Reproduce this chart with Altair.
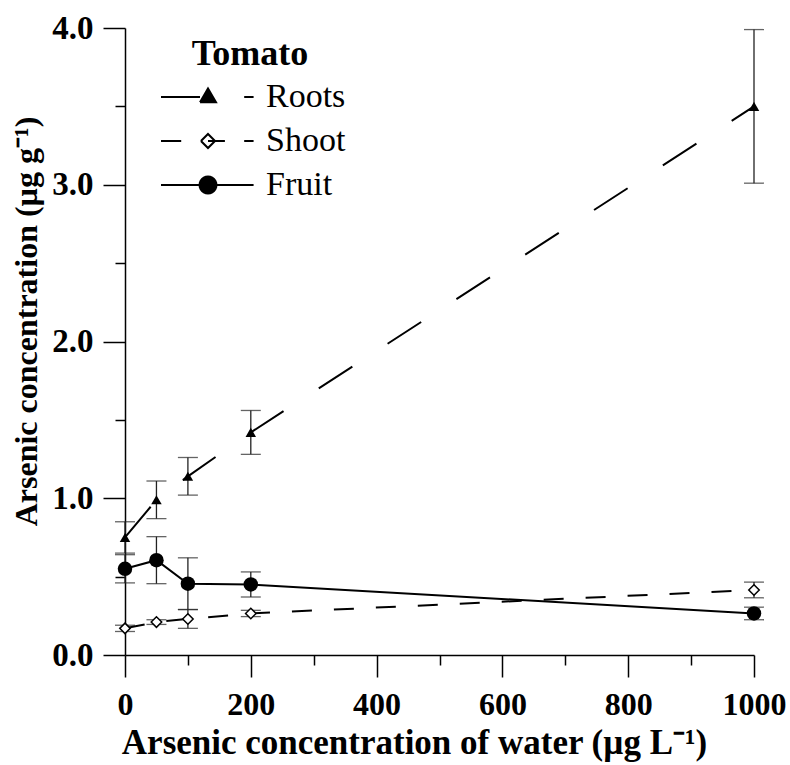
import altair as alt
import pandas as pd
import math

# ---- data ----
conc = [0, 50, 100, 200, 1000]
parts = ["Roots", "Shoot", "Fruit"]
roots_mean = [0.75, 0.99, 1.14, 1.42, 3.50]
roots_err = [0.10, 0.12, 0.12, 0.14, 0.49]
shoot_mean = [0.17, 0.21, 0.23, 0.265, 0.415]
shoot_err = [0.02, 0.015, 0.06, 0.02, 0.05]
fruit_mean = [0.55, 0.605, 0.455, 0.45, 0.265]
fruit_err = [0.09, 0.15, 0.165, 0.08, 0.04]
x_ticks = [0, 100, 200, 300, 400, 500, 600, 700, 800, 900, 1000]
y_ticks = [0.0, 0.5, 1.0, 1.5, 2.0, 2.5, 3.0, 3.5, 4.0]

rows = []
for part, means, errs in zip(parts, [roots_mean, shoot_mean, fruit_mean],
                             [roots_err, shoot_err, fruit_err]):
    for c, m, e in zip(conc, means, errs):
        rows.append({"part": part, "conc": c, "mean": m, "lo": m - e, "hi": m + e})
df = pd.DataFrame(rows)

FONT = "Liberation Serif"

x_axis = alt.Axis(
    values=x_ticks,
    labelExpr="datum.value % 200 === 0 ? '' + datum.value : ''",
    tickSize={"condition": {"test": "datum.value % 200 === 0", "value": 22}, "value": 10},
    tickWidth=1.5, tickColor="black", domainColor="black", domainWidth=1.5,
    labelFont=FONT, labelFontWeight="bold", labelFontSize=32, labelColor="black",
    labelPadding=12, labelFlush=False, labelOverlap=False, grid=False,
    title="Arsenic concentration of water (µg L⁻¹)",
    titleFont=FONT, titleFontWeight="bold", titleFontSize=35, titleColor="black",
    titlePadding=5, titleX=289,
)
y_axis = alt.Axis(
    values=y_ticks,
    labelExpr="datum.value % 1 === 0 ? format(datum.value, '.1f') : ''",
    tickSize={"condition": {"test": "datum.value % 1 === 0", "value": 22}, "value": 10},
    tickWidth=1.5, tickColor="black", domainColor="black", domainWidth=1.5,
    labelFont=FONT, labelFontWeight="bold", labelFontSize=33, labelColor="black",
    labelPadding=10, labelFlush=False, labelOverlap=False, grid=False,
    title="Arsenic concentration (µg g⁻¹)",
    titleFont=FONT, titleFontWeight="bold", titleFontSize=32, titleColor="black",
    titlePadding=8, titleY=293,
)

xs = alt.Scale(domain=[0, 1000], nice=False, zero=False)
ys = alt.Scale(domain=[0, 4], nice=False, zero=False)
X = alt.X("conc:Q", scale=xs, axis=x_axis)


def Y(field):
    return alt.Y(field, scale=ys, axis=y_axis)


base = alt.Chart(df)

# error bars
bars = base.mark_rule(color="#222", strokeWidth=1.3).encode(x=X, y=Y("lo:Q"), y2="hi:Q")
caps_lo = base.mark_tick(orient="horizontal", size=20, thickness=1.3, color="#222").encode(x=X, y=Y("lo:Q"))
caps_hi = base.mark_tick(orient="horizontal", size=20, thickness=1.3, color="#222").encode(x=X, y=Y("hi:Q"))

# lines (one layer per series, each with its own dash style)
line_roots = base.transform_filter(alt.datum.part == "Roots").mark_line(
    strokeWidth=2, color="black", strokeDash=[40, 42]).encode(x=X, y=Y("mean:Q"))
line_shoot = base.transform_filter(alt.datum.part == "Shoot").mark_line(
    strokeWidth=2, color="black", strokeDash=[20, 22]).encode(x=X, y=Y("mean:Q"))
line_fruit = base.transform_filter(alt.datum.part == "Fruit").mark_line(
    strokeWidth=2, color="black").encode(x=X, y=Y("mean:Q"))

# markers
pts_roots = base.transform_filter(alt.datum.part == "Roots").mark_point(
    shape="triangle-up", filled=True, size=110, color="black", opacity=1).encode(x=X, y=Y("mean:Q"))
pts_shoot = base.transform_filter(alt.datum.part == "Shoot").mark_point(
    shape="diamond", filled=True, size=110, fill="white", stroke="black", strokeWidth=1.5, opacity=1).encode(x=X, y=Y("mean:Q"))
pts_fruit = base.transform_filter(alt.datum.part == "Fruit").mark_point(
    shape="circle", filled=True, size=210, color="black", opacity=1).encode(x=X, y=Y("mean:Q"))

# legend symbols: line + marker drawn as custom symbol paths.
# A small symbol size keeps the legend rows compact; the path reaches beyond the unit box.
SYM_SIZE = 400
S = 4.7  # path scale so the symbol is ~94 px wide


def seg(x0, x1):
    return f"M{x0 * S:.3f} 0 L{x1 * S:.3f} 0 "


def poly(pts):
    s = "M" + " L".join(f"{px * S:.3f} {py * S:.3f}" for px, py in pts)
    return s + f" L{pts[0][0] * S:.3f} {pts[0][1] * S:.3f} "


circle_pts = [(0.18 * math.cos(2 * math.pi * i / 24), 0.18 * math.sin(2 * math.pi * i / 24)) for i in range(24)]
sym_paths = [
    seg(-1, -0.17) + poly([(-0.17, 0.11), (0, -0.18), (0.17, 0.11)]) + seg(0.77, 0.97),
    seg(-1, -0.57) + poly([(-0.15, 0), (0, -0.15), (0.15, 0), (0, 0.15)]) + seg(0, 0.36) + seg(0.77, 0.97),
    seg(-1, 0.97) + poly(circle_pts),
]
leg = alt.Legend(
    title="Tomato", orient="none", legendX=30, legendY=9,
    titleFont=FONT, titleFontSize=36, titleFontWeight="bold", titleColor="black",
    titleAnchor="middle", titlePadding=7,
    labelFont=FONT, labelFontSize=34, labelColor="black", labelOffset=41,
    symbolSize=SYM_SIZE, symbolOffset=36, symbolStrokeWidth=2, symbolOpacity=1,
    rowPadding=10, padding=0,
)
# invisible carrier layer that owns the legend (its marks have opacity 0)
legend_layer = base.mark_point(
    size=SYM_SIZE, filled=True, stroke="black", strokeWidth=2, opacity=0).encode(
    x=X, y=Y("mean:Q"),
    shape=alt.Shape("part:N", scale=alt.Scale(domain=parts, range=sym_paths), legend=leg),
    fill=alt.Fill("part:N", scale=alt.Scale(domain=parts, range=["black", "white", "black"]), legend=leg),
)

chart = alt.layer(
    bars, caps_lo, caps_hi, line_roots, line_shoot, line_fruit,
    pts_roots, pts_shoot, pts_fruit, legend_layer
).properties(
    width=629, height=627,
    autosize=alt.AutoSizeParams(type="none"),
    padding={"left": 125, "top": 28, "right": 36, "bottom": 110},
    background="white",
).configure_view(stroke=None)

chart.save("out.html", embed_options={"renderer": "svg", "actions": False})
